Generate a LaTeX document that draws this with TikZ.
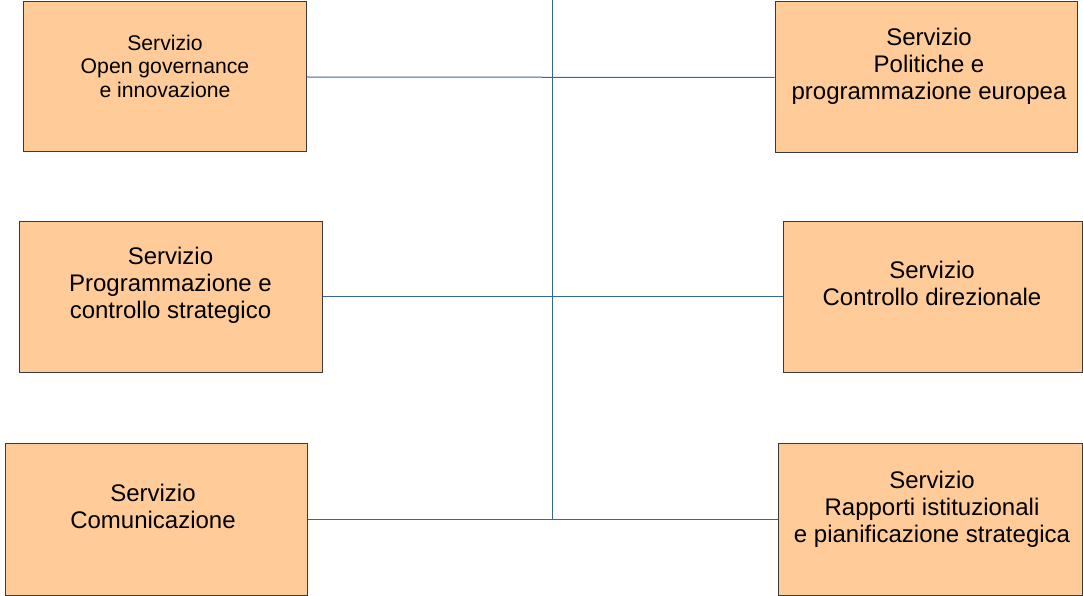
\documentclass[tikz,border=0pt]{standalone}
\usepackage{fontspec}
\setmainfont{Liberation Sans}
\definecolor{boxfill}{HTML}{FFCC99}
\definecolor{boxline}{HTML}{3A3A3A}
\definecolor{conn}{HTML}{3465A4}
\begin{document}
\begin{tikzpicture}[x=1pt,y=-1pt,
  servbox/.style={draw=boxline,fill=boxfill,line width=1pt,inner sep=0pt,rectangle},
  servtext/.style={align=center,inner sep=0pt,font=\fontsize{24}{27}\selectfont},
  smalltext/.style={align=center,inner sep=0pt,font=\fontsize{21.2}{23.5}\selectfont},
  link/.style={draw=conn,line width=1pt}]
\useasboundingbox (0,0) rectangle (1083,596);
\node[servbox,minimum width=283pt,minimum height=150pt] (b1) at (164.5,77) {};
\node[servbox,minimum width=302pt,minimum height=151pt] (b2) at (926,77.5) {};
\node[servbox,minimum width=303pt,minimum height=151pt] (b3) at (170.5,296.5) {};
\node[servbox,minimum width=299pt,minimum height=151pt] (b4) at (932.5,296.5) {};
\node[servbox,minimum width=302pt,minimum height=152pt] (b5) at (156,519) {};
\node[servbox,minimum width=304pt,minimum height=152pt] (b6) at (930,519) {};
\node[smalltext] (t1) at (165,66) {Servizio\\Open governance\\e innovazione};
\node[servtext] (t2) at (929,66.5) {Servizio\\ Politiche e\\programmazione europea};
\node[servtext] (t3) at (170.5,285.5) {Servizio\\Programmazione e\\controllo strategico};
\node[servtext] (t4) at (932,283.5) {Servizio\\Controllo direzionale};
\node[servtext] (t5) at (153,506.5) {Servizio\\Comunicazione};
\node[servtext] (t6) at (932,509.5) {Servizio\\Rapporti istituzionali\\ e pianificazione strategica};
\coordinate (top) at (552,0);
\coordinate (bot) at (552,519);
\draw[link] (top) -- (bot);
\draw[link] (b1.east) -- (b2.west);
\draw[link] (b3.east) -- (b4.west);
\draw[link] (b5.east) -- (b6.west);
\end{tikzpicture}
\end{document}
